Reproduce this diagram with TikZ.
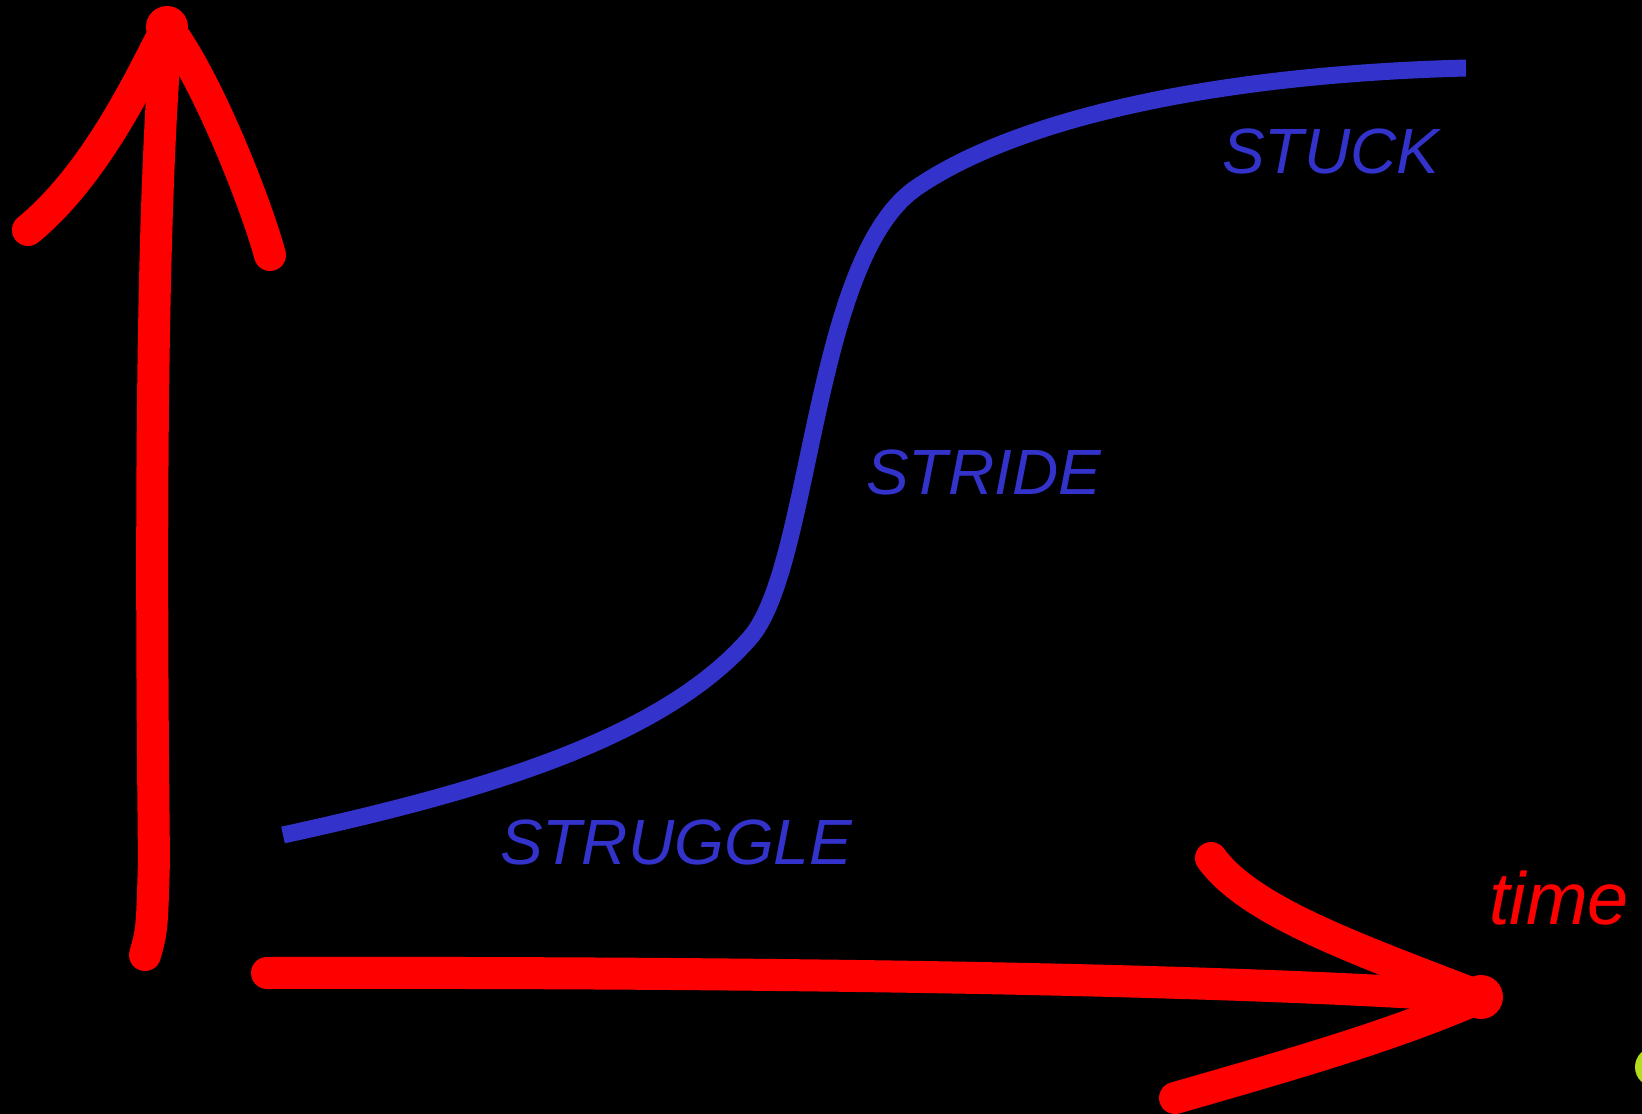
\documentclass[tikz,border=0pt]{standalone}
\usepackage{fontspec}
\setmainfont{Liberation Sans}
\definecolor{axisred}{RGB}{255,0,0}
\definecolor{curveblue}{RGB}{51,51,204}
\definecolor{dotgreen}{RGB}{180,220,30}
\tikzset{
  axisstroke/.style={draw=axisred, line width=32pt, line cap=round, line join=round},
  curvestroke/.style={draw=curveblue, line width=17pt, line cap=butt},
  phase/.style={text=curveblue, font=\fontsize{64}{70}\selectfont\itshape, inner sep=0pt, anchor=base west},
  axislabel/.style={text=axisred, font=\fontsize{74}{80}\selectfont\itshape, inner sep=0pt, anchor=base west}
}
\begin{document}
\begin{tikzpicture}[x=1pt,y=-1pt]
\fill[black] (0,0) rectangle (1642,1114);
\useasboundingbox (0,0) rectangle (1642,1114);
\clip (0,0) rectangle (1642,1114);
% coordinates
\coordinate (ybot) at (145,955);
\coordinate (ytop) at (167,27);
\coordinate (yleft) at (28,230);
\coordinate (yright) at (270,255);
\coordinate (xstart) at (267,973);
\coordinate (xtip) at (1481,997);
\coordinate (xup) at (1211,858);
\coordinate (xdown) at (1175,1098);
% vertical axis
\draw[axisstroke] (ybot) .. controls (152,930) .. (154,860) .. controls (150,500) and (152,200) .. (ytop);
\draw[axisstroke] (ytop) .. controls (140,80) and (95,175) .. (yleft);
\draw[axisstroke] (ytop) .. controls (205,75) and (255,200) .. (yright);
\fill[axisred] (ytop) circle (21);
% horizontal axis
\draw[axisstroke] (xstart) .. controls (700,972) and (1200,977) .. (xtip);
\draw[axisstroke] (xup) .. controls (1250,912) and (1360,950) .. (xtip);
\draw[axisstroke] (xtip) .. controls (1395,1035) and (1290,1065) .. (xdown);
\fill[axisred] (xtip) circle (22);
% S-curve
\coordinate (c0) at (283,835);
\coordinate (c1) at (749,639);
\coordinate (c2) at (916,188);
\coordinate (c3) at (1466,68);
\draw[curvestroke] (c0) .. controls (480,792) and (660,740) .. (c1)
  .. controls (812,570) and (812,260) .. (c2)
  .. controls (1010,123) and (1200,75) .. (c3);
% labels
\node[phase] (stuck) at (1222,173) {STUCK};
\node[phase] (stride) at (866,494) {STRIDE};
\node[phase] (struggle) at (500,864) {STRUGGLE};
\node[axislabel] (time) at (1489,924) {time};
% green dot
\fill[dotgreen] (1655,1067) circle (20);
\end{tikzpicture}
\end{document}
